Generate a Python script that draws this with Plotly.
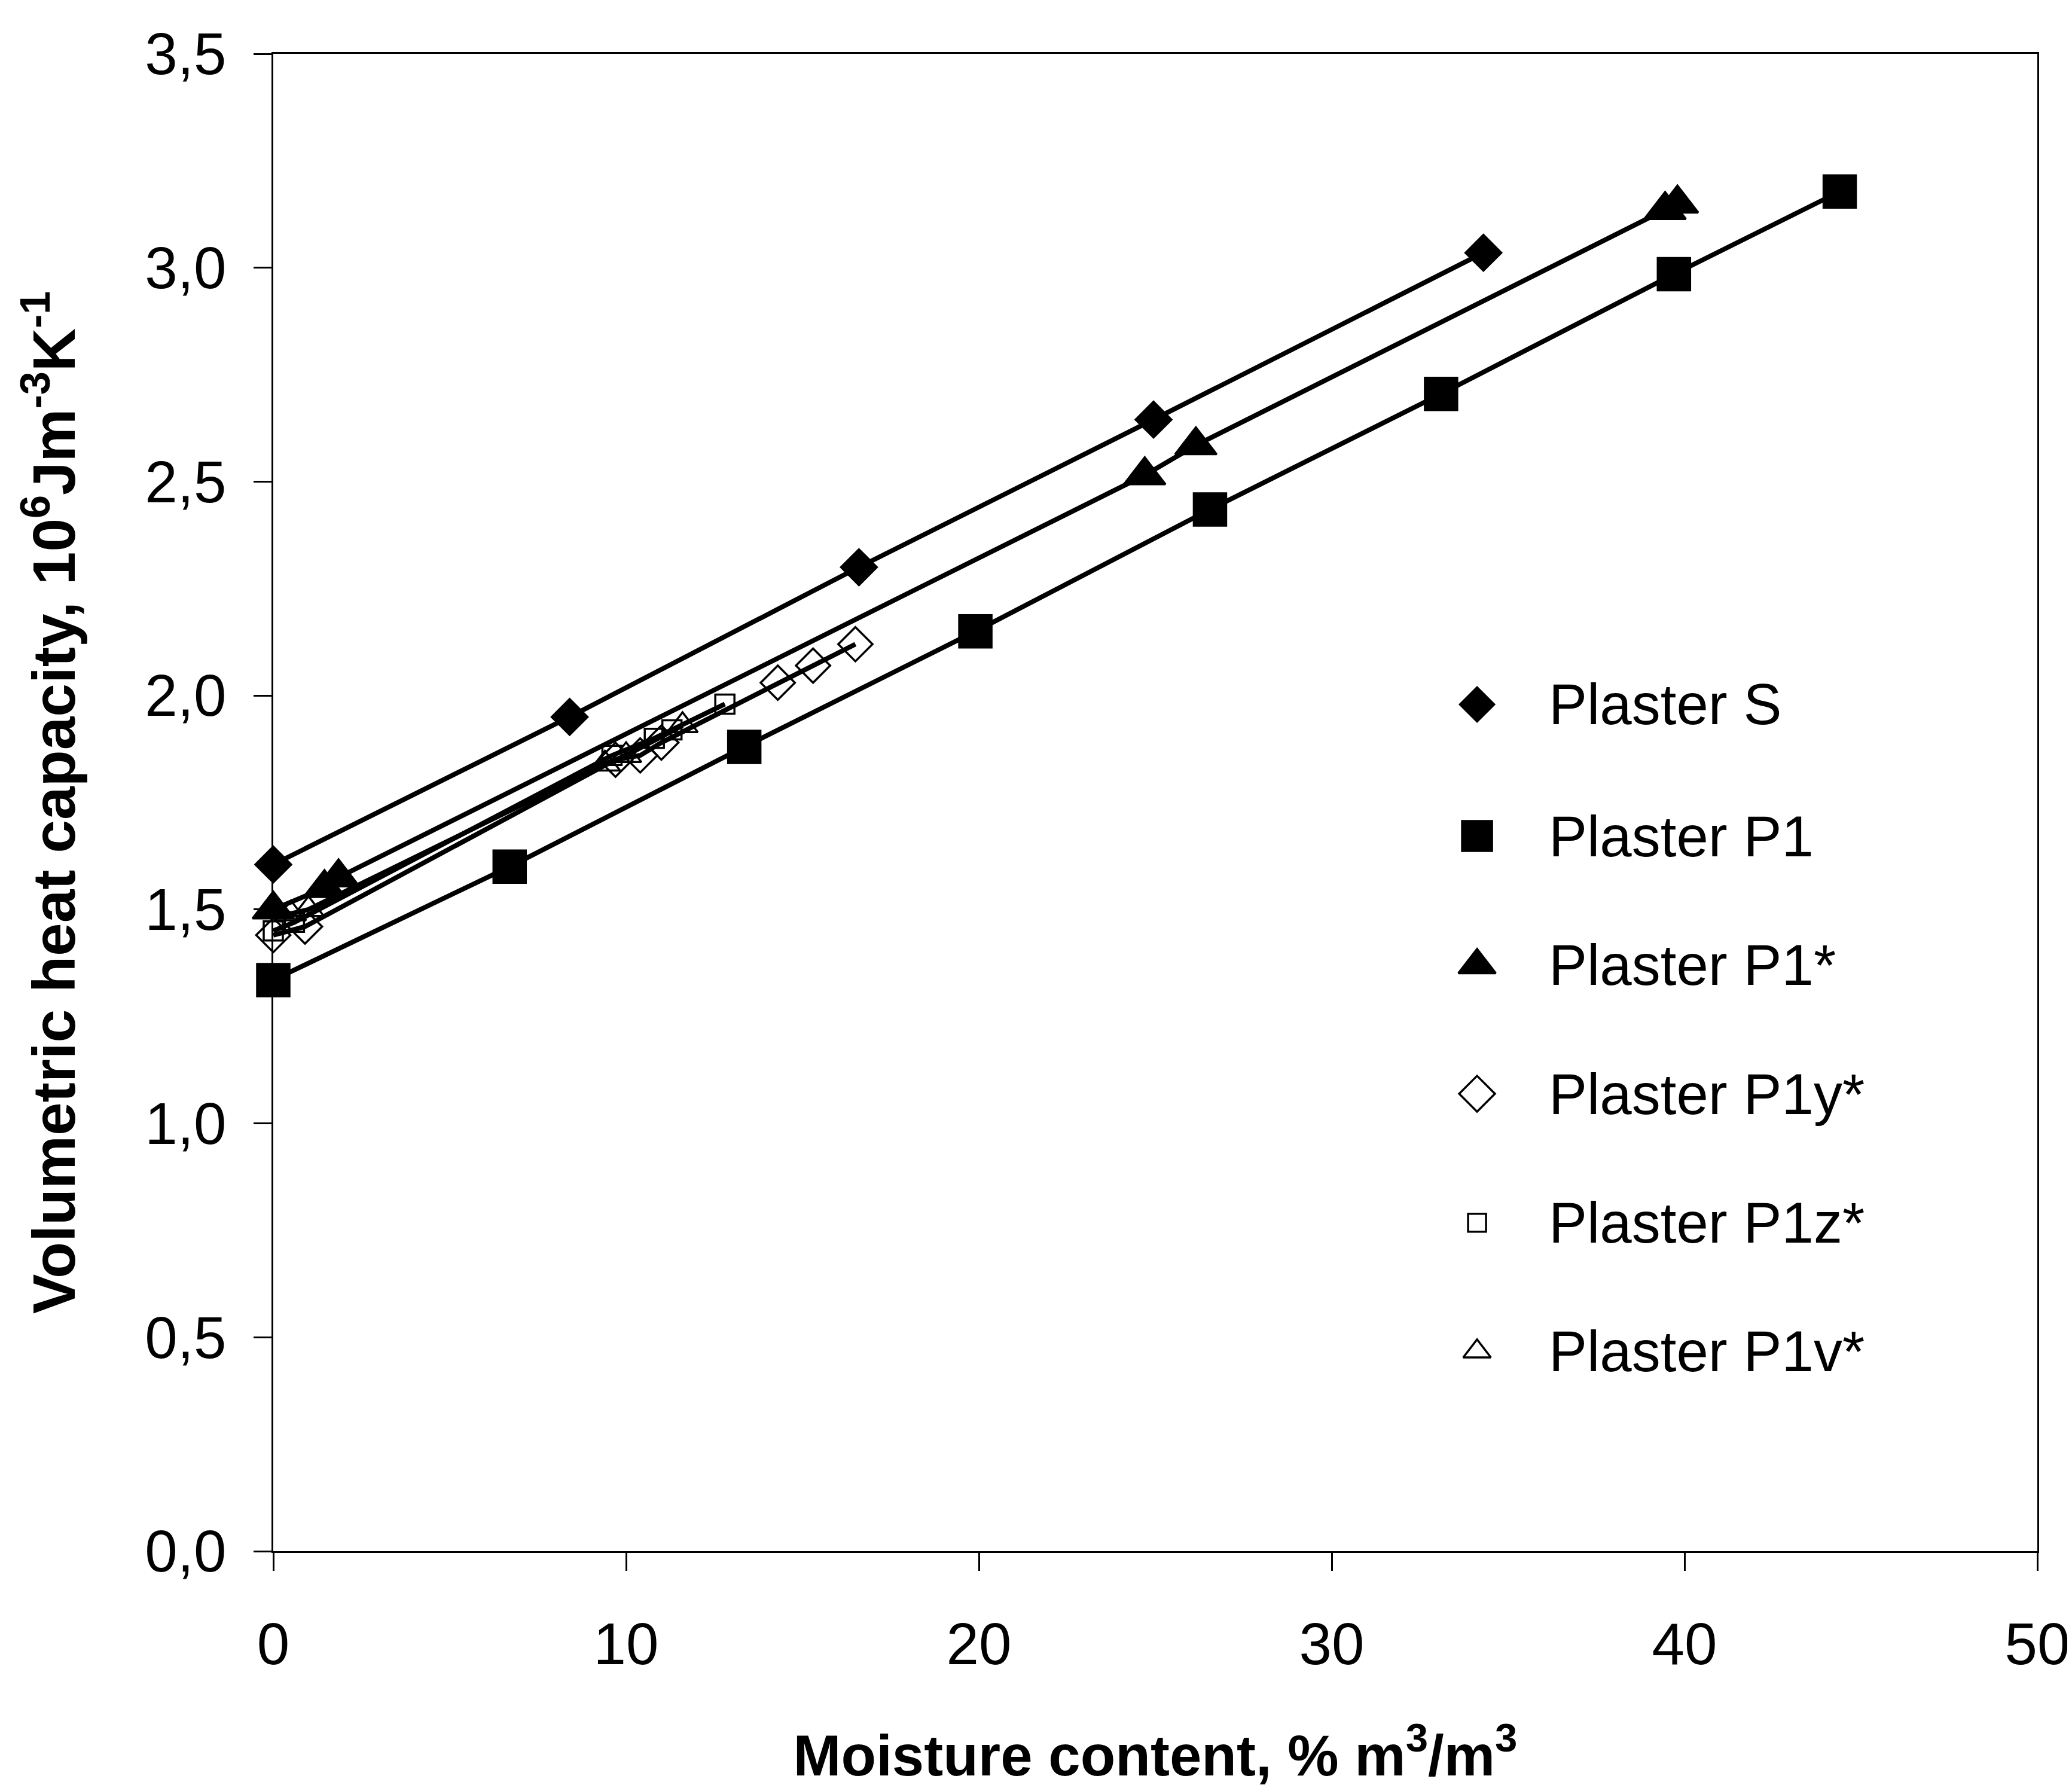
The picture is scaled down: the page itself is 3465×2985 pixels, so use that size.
import plotly.graph_objects as go

# ---------------- data ----------------
x_tickvals = [0, 10, 20, 30, 40, 50]
x_ticktext = ["0", "10", "20", "30", "40", "50"]
y_tickvals = [0.0, 0.5, 1.0, 1.5, 2.0, 2.5, 3.0, 3.5]
y_ticktext = ["0,0", "0,5", "1,0", "1,5", "2,0", "2,5", "3,0", "3,5"]

series_names = ["Plaster S", "Plaster P1", "Plaster P1*", "Plaster P1y*", "Plaster P1z*", "Plaster P1v*"]

s_x = [0.0, 8.4, 16.6, 24.95, 34.3]
s_y = [1.605, 1.95, 2.30, 2.645, 3.035]

p1_x = [0.0, 6.7, 13.35, 19.9, 26.55, 33.1, 39.7, 44.4]
p1_y = [1.335, 1.60, 1.88, 2.15, 2.435, 2.705, 2.985, 3.178]

p1s_x = [0.0, 1.45, 1.85, 24.7, 26.15, 39.45, 39.8]
p1s_y = [1.50, 1.55, 1.575, 2.515, 2.585, 3.135, 3.15]

p1y_x = [0.0, 0.9, 9.7, 10.4, 11.0, 14.3, 15.3, 16.5]
p1y_y = [1.44, 1.46, 1.85, 1.86, 1.89, 2.03, 2.07, 2.12]

p1z_x = [0.0, 0.6, 9.6, 10.8, 11.3, 12.8]
p1z_y = [1.45, 1.47, 1.86, 1.90, 1.92, 1.98]

p1v_x = [0.0, 0.5, 1.0, 9.4, 10.0, 11.6]
p1v_y = [1.50, 1.49, 1.50, 1.84, 1.86, 1.93]

# ---------------- styles ----------------
FONT = "Liberation Sans, Arial, sans-serif"
symbols = ["diamond", "square", "triangle-up", "diamond-open", "square-open", "triangle-up-open"]
sizes = [46, 54, 60, 44, 32, 44]
legend_sizes = [44, 50, 54, 46, 30, 40]

data = [(s_x, s_y), (p1_x, p1_y), (p1s_x, p1s_y), (p1y_x, p1y_y), (p1z_x, p1z_y), (p1v_x, p1v_y)]

fig = go.Figure()
for (xs, ys), name, sym, sz in zip(data, series_names, symbols, sizes):
    fig.add_trace(go.Scatter(
        x=xs, y=ys, name=name, mode="lines+markers",
        line=dict(color="black", width=8),
        marker=dict(symbol=sym, size=sz, color="black", opacity=1,
                    line=dict(color="black", width=3.5)),
        cliponaxis=False, showlegend=False,
    ))

# Legend drawn on an invisible overlay axis (0..1 in both directions)
leg_x = 0.6824
leg_y = [0.5655, 0.4776, 0.3914, 0.3055, 0.2193, 0.1334]
fig.add_trace(go.Scatter(
    x=[leg_x] * len(series_names), y=leg_y, mode="markers",
    marker=dict(symbol=symbols, size=legend_sizes, color="black", opacity=1,
                line=dict(color="black", width=3.5)),
    xaxis="x2", yaxis="y2", showlegend=False, hoverinfo="skip", cliponaxis=False,
))
for name, yy in zip(series_names, leg_y):
    fig.add_annotation(x=0.7224, y=yy, xref="x2", yref="y2", text=name,
                       showarrow=False, xanchor="left", yanchor="middle",
                       font=dict(family=FONT, size=96, color="black"))

axis_common = dict(
    showgrid=False, zeroline=False, showline=True, linecolor="black", linewidth=3,
    mirror=True, ticks="outside", ticklen=30, tickwidth=3, tickcolor="black",
    tickfont=dict(family=FONT, size=98, color="black"), automargin=False,
)

fig.update_layout(
    width=3465, height=2985,
    margin=dict(l=449, r=66, t=82, b=399),
    plot_bgcolor="white", paper_bgcolor="white",
    font=dict(family=FONT, color="black"),
    xaxis=dict(range=[0, 50], tickvals=x_tickvals, ticktext=x_ticktext,
               ticklabelstandoff=38,
               title=dict(text="<b>Moisture content, % m<sup>3</sup>/m<sup>3</sup></b>",
                          font=dict(family=FONT, size=96, color="black"), standoff=100),
               **axis_common),
    yaxis=dict(range=[0, 3.5], tickvals=y_tickvals, ticktext=y_ticktext,
               ticklabelstandoff=26,
               title=dict(text="<b>Volumetric heat capacity, 10<sup>6</sup>Jm<sup>-3</sup>K<sup>-1</sup></b>",
                          font=dict(family=FONT, size=100, color="black"), standoff=84),
               **axis_common),
    xaxis2=dict(overlaying="x", range=[0, 1], visible=False, fixedrange=True),
    yaxis2=dict(overlaying="y", range=[0, 1], visible=False, fixedrange=True),
    showlegend=False,
)

fig.write_html("out.html")
